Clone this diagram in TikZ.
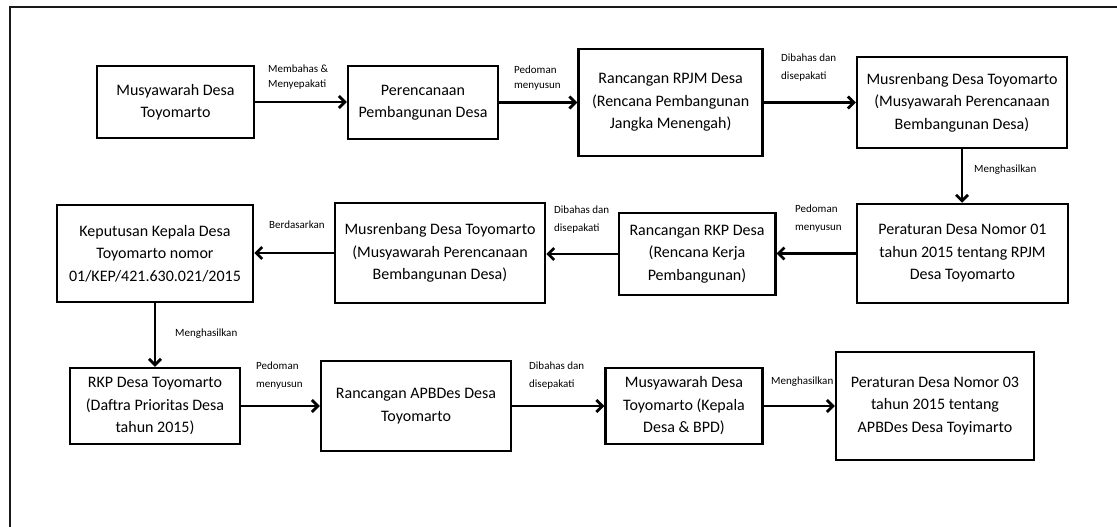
\documentclass[tikz,border=0pt]{standalone}
\usepackage{fontspec}
\setmainfont{Carlito}
\usetikzlibrary{arrows.meta}

\tikzset{
  box/.style={draw=black, line width=2.5pt, inner sep=0pt, align=center,
              font=\fontsize{16}{22.5}\selectfont},
  flow/.style={line width=2.8pt, -{Straight Barb[length=6pt,width=12pt]}},
  lbl/.style={anchor=west, inner sep=0pt, align=left,
              font=\fontsize{11}{18}\selectfont},
  lbltight/.style={lbl, font=\fontsize{11}{15}\selectfont},
  frame/.style={line width=2pt, draw=black!90}
}

\begin{document}
\begin{tikzpicture}[x=1pt, y=-1pt]
  \useasboundingbox (0,0) rectangle (1117,527);

  % open page frame (left and top edges)
  \coordinate (fbl) at (9.5,527);
  \coordinate (ftl) at (9.5,7);
  \coordinate (ftr) at (1117,7);
  \draw[frame] (fbl) -- (ftl) -- (ftr);

  % first row
  \node[box, minimum width=157pt, minimum height=72pt]  (b1) at (175.5,102) {Musyawarah Desa\\Toyomarto};
  \node[box, minimum width=150pt, minimum height=73pt]  (b2) at (423,102.5) {Perencanaan\\Pembangunan Desa};
  \node[box, minimum width=184pt, minimum height=107pt] (b3) at (670.6,102.5) {Rancangan RPJM Desa\\(Rencana Pembangunan\\Jangka Menengah)};
  \node[box, minimum width=210pt, minimum height=91pt]  (b4) at (962,102.5) {Musrenbang Desa Toyomarto\\(Musyawarah Perencanaan\\Bembangunan Desa)};

  % second row
  \node[box, minimum width=211pt, minimum height=99pt]  (b5) at (962.5,253.5) {Peraturan Desa Nomor 01\\tahun 2015 tentang RPJM\\Desa Toyomarto};
  \node[box, minimum width=156.5pt, minimum height=82pt] (b6) at (697,254) {Rancangan RKP Desa\\(Rencana Kerja\\Pembangunan)};
  \node[box, minimum width=210pt, minimum height=100pt] (b7) at (440,253) {Musrenbang Desa Toyomarto\\(Musyawarah Perencanaan\\Bembangunan Desa)};
  \node[box, minimum width=196pt, minimum height=97pt]  (b8) at (155,253.5) {Keputusan Kepala Desa\\Toyomarto nomor\\01/KEP/421.630.021/2015};

  % third row
  \node[box, minimum width=170pt, minimum height=76pt]  (b9)  at (155,406) {RKP Desa Toyomarto\\(Daftra Prioritas Desa\\tahun 2015)};
  \node[box, minimum width=190pt, minimum height=90pt]  (b10) at (416,406) {Rancangan APBDes Desa\\Toyomarto};
  \node[box, minimum width=157pt, minimum height=76pt]  (b11) at (684,406) {Musyawarah Desa\\Toyomarto (Kepala\\Desa \& BPD)};
  \node[box, minimum width=198pt, minimum height=108pt] (b12) at (935,406) {Peraturan Desa Nomor 03\\tahun 2015 tentang\\APBDes Desa Toyimarto};

  % connectors
  \draw[flow] (b1.east) -- (b1.east -| b2.west);
  \draw[flow] (b2.east) -- (b2.east -| b3.west);
  \draw[flow] (b3.east) -- (b3.east -| b4.west);
  \draw[flow] (b4.south) -- (b4.south |- b5.north);
  \draw[flow] (b5.west) -- (b5.west -| b6.east);
  \draw[flow] (b6.west) -- (b6.west -| b7.east);
  \draw[flow] (b7.west) -- (b7.west -| b8.east);
  \draw[flow] (b8.south) -- (b8.south |- b9.north);
  \draw[flow] (b9.east) -- (b9.east -| b10.west);
  \draw[flow] (b10.east) -- (b10.east -| b11.west);
  \draw[flow] (b11.east) -- (b11.east -| b12.west);

  % connector labels
  \node[lbltight] (l1)  at (268,77.5)  {Membahas \&\\Menyepakati};
  \node[lbltight] (l2)  at (514,78)    {Pedoman\\menyusun};
  \node[lbl]      (l3)  at (781,67.5)  {Dibahas dan\\disepakati};
  \node[lbl]      (l4)  at (974,170)   {Menghasilkan};
  \node[lbl]      (l5)  at (795,219)   {Pedoman\\menyusun};
  \node[lbl]      (l6)  at (554,219.5) {Dibahas dan\\disepakati};
  \node[lbl]      (l7)  at (269,225)   {Berdasarkan};
  \node[lbl]      (l8)  at (175,334)   {Menghasilkan};
  \node[lbl]      (l9)  at (256,375.5) {Pedoman\\menyusun};
  \node[lbl]      (l10) at (529,375.5) {Dibahas dan\\disepakati};
  \node[lbl]      (l11) at (771,382)   {Menghasilkan};
\end{tikzpicture}
\end{document}
